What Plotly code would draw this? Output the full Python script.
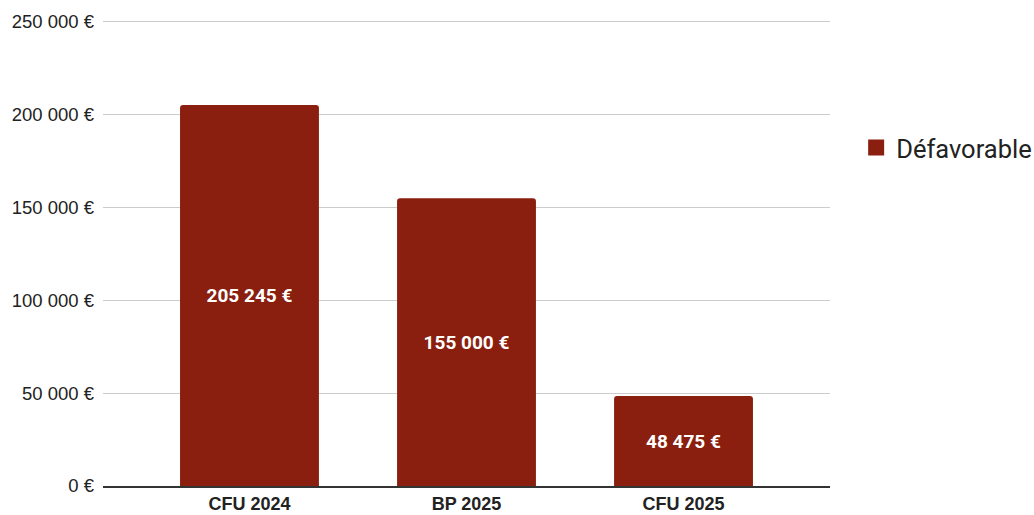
import plotly.graph_objects as go

categories = ["CFU 2024", "BP 2025", "CFU 2025"]
values = [205245, 155000, 48475]
tick_vals = [0, 50000, 100000, 150000, 200000, 250000]
tick_text = ["0 €", "50 000 €", "100 000 €", "150 000 €", "200 000 €", "250 000 €"]
series_name = "Défavorable"

def euro(v):
    return "{:,}".format(v).replace(",", " ") + " €"

color = "#8a1f0f"

fig = go.Figure()
fig.add_trace(go.Bar(x=categories, y=values, marker=dict(color=color, line=dict(width=0)),
                     text=[euro(v) for v in values], textposition="inside", insidetextanchor="middle",
                     textfont=dict(family="Roboto", size=19, color="white", weight="bold"),
                     showlegend=False, name=series_name))
# legend entry (bigger square than the default bar icon)
fig.add_trace(go.Scatter(x=[None], y=[None], mode="markers", name=series_name,
                         marker=dict(symbol="square", size=16, color=color)))

fig.update_layout(width=1034, height=515, paper_bgcolor="white", plot_bgcolor="white",
                  margin=dict(l=103, r=204, t=20, b=29), bargap=0.36, barcornerradius=3,
                  font=dict(family="Liberation Sans", color="#222"),
                  legend=dict(xref="container", yref="container", x=0.828, y=0.7126,
                              xanchor="left", yanchor="middle",
                              font=dict(family="Roboto", size=25.5, color="#222"), itemsizing="trace"))
fig.update_xaxes(range=[-0.675, 2.675], showgrid=False, showline=True, linecolor="#333", linewidth=1.5,
                 automargin=False, ticklabelstandoff=1,
                 tickfont=dict(family="Liberation Sans", size=18, color="#222", weight="bold"))
fig.update_yaxes(range=[0, 251000], tickvals=tick_vals, ticktext=tick_text, showgrid=True,
                 gridcolor="#cccccc", gridwidth=1, zeroline=False, automargin=False, ticklabelstandoff=8,
                 tickfont=dict(family="Liberation Sans", size=18.5, color="#222"))

# page body has an 8px default margin; remove it so the figure fills the window
fig.write_html("out.html", config={"displayModeBar": False},
               post_script="document.body.style.margin='0';")
